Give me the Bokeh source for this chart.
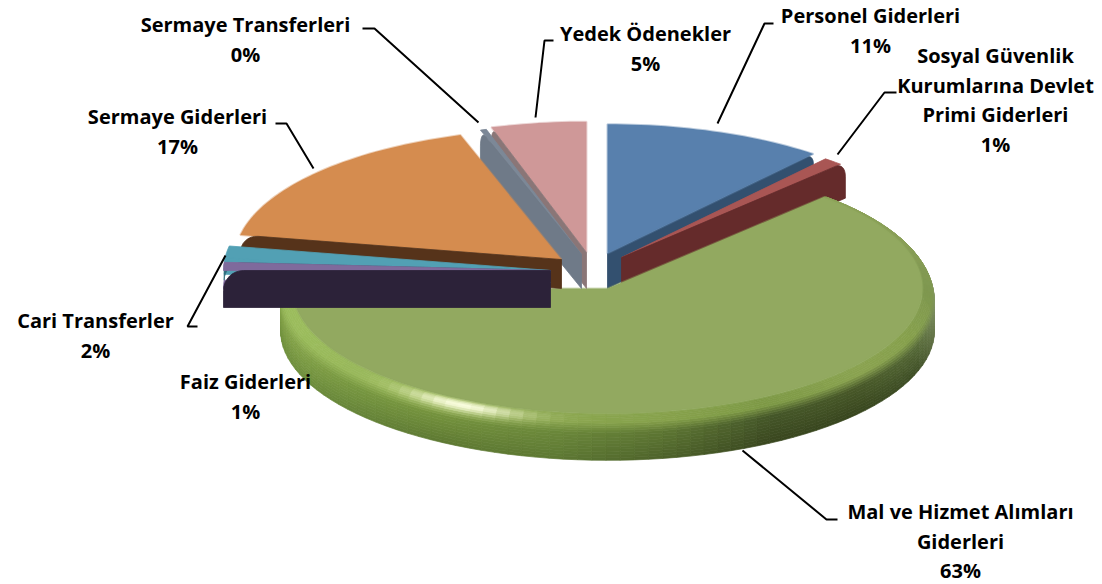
import math
from bokeh.plotting import figure
from bokeh.models import Range1d
from bokeh.core.properties import value
from bokeh.embed import file_html
from bokeh.resources import INLINE

# ---------- data ----------
categories = ["Personel Giderleri", "Sosyal Güvenlik Kurumlarına Devlet Primi Giderleri",
              "Mal ve Hizmet Alımları Giderleri", "Faiz Giderleri", "Cari Transferler",
              "Sermaye Giderleri", "Sermaye Transferleri", "Yedek Ödenekler"]
shares = [11.0, 1.0, 63.0, 1.0, 2.0, 17.0, 0.3, 4.7]
label_lines = [["Personel Giderleri"], ["Sosyal Güvenlik", "Kurumlarına Devlet", "Primi Giderleri"],
               ["Mal ve Hizmet Alımları", "Giderleri"], ["Faiz Giderleri"], ["Cari Transferler"],
               ["Sermaye Giderleri"], ["Sermaye Transferleri"], ["Yedek Ödenekler"]]

# ---------- style ----------
top_colors = ["#5880ad", "#a95654", "#92a960", "#7f6a9c", "#52a0b4", "#d58c4f", "#7c8897", "#cf9898"]
wall_colors = ["#33506f", "#652b2b", "#5f7a34", "#2c2239", "#2f6b7a", "#56331a", "#6f7a88", "#8a7677"]
centers = [(607, 253), (621, 257), (607, 288), (550, 270), (550, 270), (561, 259), (581, 254), (586, 252)]
radii = [323, 320, 327, 327, 327, 327, 327, 327]
K = 0.40
label_pos = [(870, 15), (995, 55), (960, 511), (245, 381), (95, 320), (177, 116), (245, 24), (645, 33)]
leaders = [
    ([773, 764, 717], [23, 23, 123]),
    ([896, 884, 837], [92, 92, 154]),
    ([837, 826, 742], [519, 519, 450]),
    ([197, 187, 225], [326, 326, 255]),
    ([275, 286, 313], [123, 123, 168]),
    ([362, 374, 478], [28, 28, 122]),
    ([553, 544, 535], [40, 40, 117]),
]
FONT = "Open Sans"

X0, Y0 = 0, 0
W, H = 1102, 584
p = figure(width=W, height=H, output_backend="svg", toolbar_location=None,
           x_range=Range1d(X0, X0 + W), y_range=Range1d(Y0 + H, Y0), min_border=0)
p.axis.visible = False
p.grid.visible = False
p.outline_line_color = None
p.background_fill_color = "white"
p.border_fill_color = "white"

total = sum(shares)
start = []
acc = 0.0
for s in shares:
    start.append(acc / total * 360)
    acc += s
end = [a + s / total * 360 for a, s in zip(start, shares)]


def pt(c, r, th, z=0.0, k=K):
    t = math.radians(th)
    return c[0] + r * math.sin(t), c[1] - k * r * math.cos(t) + z


def sector(c, r, a0, a1, k=K, z=0.0):
    n = max(2, int((a1 - a0) / 1.5) + 2)
    pts = [(c[0], c[1] + z)]
    for i in range(n):
        pts.append(pt(c, r, a0 + (a1 - a0) * i / (n - 1), z, k))
    return pts


def plane(c, r, th, b, d):
    pts = [pt(c, 0, th), pt(c, r - b, th)]
    for i in range(1, 9):
        a = math.radians(90 * i / 8)
        pts.append(pt(c, r - b + b * math.sin(a), th, b * (1 - math.cos(a))))
    pts.append(pt(c, r, th, d))
    pts.append(pt(c, 0, th, d))
    return pts


def fill(pts, color):
    p.patch([q[0] for q in pts], [q[1] for q in pts], fill_color=color, line_color=color, line_width=0.8)


def soft(pts, color):
    p.patch([q[0] for q in pts], [q[1] for q in pts], fill_color=color, line_color=color,
            line_width=2, line_alpha=0.4)


def h2rgb(h):
    return tuple(int(h[i:i + 2], 16) for i in (1, 3, 5))


def mix(a, b, t):
    return tuple(a[i] + (b[i] - a[i]) * t for i in range(3))


def table(ths, cols, th):
    for i in range(len(ths) - 1):
        if ths[i] <= th <= ths[i + 1]:
            return mix(h2rgb(cols[i]), h2rgb(cols[i + 1]), (th - ths[i]) / (ths[i + 1] - ths[i]))
    return h2rgb(cols[-1])


S_TH = [40, 70, 90, 110, 130, 150, 170, 190, 210, 230, 250, 272]
S_BEV = ["#8ca258", "#8a9f58", "#7f9850", "#86a04c", "#8aa350", "#7e9a46", "#87a24c", "#8ba74f", "#a0bc5c", "#98b85a", "#9bbc5c", "#9bbc5c"]
S_WT = ["#8ca060", "#8a9c68", "#86966a", "#596d3a", "#4a5b2a", "#46582a", "#5f7834", "#6d8a3c", "#77953f", "#7a9a42", "#86a54b", "#86a54b"]
S_WB = ["#90a070", "#7a8a60", "#6f7f52", "#3f4f26", "#39471f", "#3a4720", "#4e632b", "#5f7a34", "#5f7a33", "#67853a", "#6f8f3d", "#6f8f3d"]


def green_rim(c, a0, a1):
    R, Rf, K2, ZB, D = 327, 315, 0.397, 14, 42
    layers = []
    nw, nb = 10, 10
    for i in range(nw):
        layers.append(("w", i / nw, R, D - (D - ZB) * i / nw, D - (D - ZB) * (i + 1) / nw))
    prof = []
    for i in range(nb + 1):
        a = math.radians(90 * i / nb)
        prof.append((R - (R - Rf) * (1 - math.cos(a)), ZB * (1 - math.sin(a))))
    xs, ys, cols = [], [], []
    n = int((a1 - a0) / 2.5) + 1
    seq = [a0 + (a1 - a0) * i / n for i in range(n + 1)]
    for L in range(nw + nb):
        for j in range(n):
            t0, t1 = seq[j], seq[j + 1]
            tm = (t0 + t1) / 2
            if L < nw:
                _, f, r, z0, z1 = layers[L]
                q = [pt(c, r, t0, z0, K2), pt(c, r, t1, z0, K2), pt(c, r, t1, z1, K2), pt(c, r, t0, z1, K2)]
                col = mix(table(S_TH, S_WB, tm), table(S_TH, S_WT, tm), f)
            else:
                i = L - nw
                r0, z0 = prof[i]
                r1, z1 = prof[i + 1]
                q = [pt(c, r0, t0, z0, K2), pt(c, r0, t1, z0, K2), pt(c, r1, t1, z1, K2), pt(c, r1, t0, z1, K2)]
                f = (i + 0.5) / nb
                col = mix(table(S_TH, S_WT, tm), table(S_TH, S_BEV, tm), min(1, f * 2.2))
                g = math.exp(-((tm - 207) / 11) ** 2) * math.exp(-((f - 0.62) / 0.3) ** 2)
                col = mix(col, (250, 253, 222), min(1, g))
            xs.append([a[0] for a in q])
            ys.append([a[1] for a in q])
            cols.append("#%02x%02x%02x" % tuple(int(v) for v in col))
    p.patches(xs, ys, fill_color=cols, line_color=cols, line_width=0.7)
    return Rf, K2


fill(plane(centers[0], radii[0], end[0], 10, 35), wall_colors[0])
soft(sector(centers[0], radii[0], start[0], end[0]), top_colors[0])
fill(sector(centers[1], radii[1], start[1], end[1]), top_colors[1])
fill(plane(centers[1], radii[1] + 7, end[1], 14, 36), wall_colors[1])
rf, k2 = green_rim(centers[2], start[2], end[2])
soft(sector(centers[2], rf, start[2], end[2], k2), top_colors[2])
soft(sector(centers[7], radii[7], start[7], end[7]), top_colors[7])
fill(plane(centers[7], radii[7], start[7], 14, 36), wall_colors[7])
fill(sector(centers[6], radii[6], start[6], end[6]), top_colors[6])
fill(plane(centers[6], radii[6], start[6], 16, 34), wall_colors[6])
soft(sector(centers[5], radii[5], start[5], end[5]), top_colors[5])
fill(plane(centers[5], radii[5], start[5], 18, 29), wall_colors[5])
fill(sector(centers[4], radii[4], start[4], end[4]), top_colors[4])
fill(sector(centers[4], radii[4], start[4], end[4], z=12), top_colors[4])
fill(plane(centers[4], radii[4], start[4], 18, 2), wall_colors[4])
fill(sector(centers[3], radii[3], start[3], end[3]), top_colors[3])
fill(sector(centers[3], radii[3], start[3], end[3], z=18), top_colors[3])
fill(plane(centers[3], radii[3], start[3], 20, 37), wall_colors[3])

for lx, ly in leaders:
    p.line(lx, ly, line_color="black", line_width=2)

tx, ty, tt = [], [], []
for lines, (x0, y0), s in zip(label_lines, label_pos, shares):
    rows = lines + [f"{round(s)}%"]
    for i, t in enumerate(rows):
        tx.append(x0)
        ty.append(y0 + i * 29.6)
        tt.append(t)
p.text(tx, ty, text=tt, text_align="center", text_baseline="middle", text_color="black",
       text_font=value(FONT), text_font_style="bold", text_font_size="20px")

open("out.html", "w").write(file_html(p, INLINE))
